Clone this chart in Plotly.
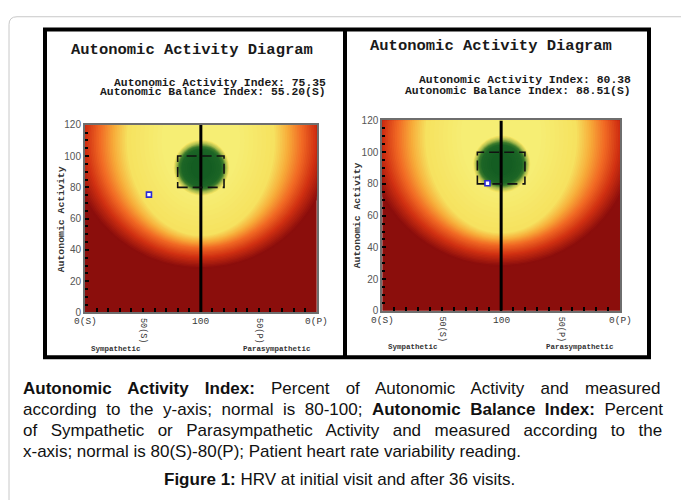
import plotly.graph_objects as go

W, H = 681, 500

# ---------------- data ----------------
panel_names = ["Initial visit", "After 36 visits"]
activity_index = [75.35, 80.38]          # Autonomic Activity Index (y)
balance_index = [55.20, 88.51]           # Autonomic Balance Index
balance_side = ["S", "S"]                # S = sympathetic, P = parasympathetic
normal_activity = [80, 100]
normal_balance = [80, 80]                # 80(S) - 80(P)

x_tick_vals = [0, 50, 100, 150, 200]
x_tick_text = ["0(S)", "50(S)", "100", "50(P)", "0(P)"]
x_tick_rot = [0, 90, 0, 90, 0]
y_tick_vals = [0, 20, 40, 60, 80, 100, 120]

panel_title = "Autonomic Activity Diagram"
y_title = "Autonomic Activity"
side_labels = ["Sympathetic", "Parasympathetic"]

caption_lines = [
    [("b", "Autonomic Activity Index:"), ("r", " Percent of Autonomic Activity and measured")],
    [("r", "according to the y-axis; normal is 80-100; "), ("b", "Autonomic Balance Index:"), ("r", " Percent")],
    [("r", "of Sympathetic or Parasympathetic Activity and measured according to the")],
    [("r", "x-axis; normal is 80(S)-80(P); Patient heart rate variability reading.")],
]
caption_justify = [True, True, True, False]
figure_caption = [("b", "Figure 1:"), ("r", " HRV at initial visit and after 36 visits.")]

# ---------------- style / layout constants ----------------
def px(x):
    return x / W


def py(y):
    return 1 - y / H


panels = [
    dict(l=85, r=316.7, t=121.7, b=314, title=(192.5, 45.5), idx_r=328, idx_y=(78.5, 88.5),
         ylab=(61.5, 218), side_y=351.5),
    dict(l=382.3, r=620, t=117.3, b=312.3, title=(491.5, 41), idx_r=633, idx_y=(76, 87),
         ylab=(357.5, 215), side_y=349.5),
]

field_center = (100, 110)
field_stops = [  # half-width, half-height (data units), colour ; from outside to inside
    (113, 82, (139, 14, 12)),
    (100, 75, (208, 48, 18)),
    (88, 69, (241, 106, 36)),
    (76, 65, (247, 172, 58)),
    (64, 61, (246, 226, 96)),
    (34, 36, (246, 238, 116)),
]
green_center = (100.5, 92.5)
green_stops = [
    (24, 18, (246, 230, 100)),
    (21.5, 15.5, (160, 182, 74)),
    (19.5, 13.8, (58, 122, 44)),
    (17, 12, (28, 101, 38)),
    (9, 7, (20, 93, 34)),
]

REG = {' ': 278, '-': 333, ';': 278, ':': 278, '(': 333, ')': 333, '.': 278, ',': 278}
BOLD = {' ': 278, '-': 333, ';': 333, ':': 333, '(': 333, ')': 333, '.': 278, ',': 278}
for d in "0123456789":
    REG[d] = 556
    BOLD[d] = 556
REG.update(dict(zip("abcdefghijklmnopqrstuvwxyz",
                    [556, 556, 500, 556, 556, 278, 556, 556, 222, 222, 500, 222, 833, 556, 556, 556,
                     556, 333, 500, 278, 556, 500, 722, 500, 500, 500])))
REG.update(dict(zip("ABCDEFGHIJKLMNOPQRSTUVWXYZ",
                    [667, 667, 722, 722, 667, 611, 778, 722, 278, 500, 667, 556, 833, 722, 778, 667,
                     778, 722, 667, 611, 722, 667, 944, 667, 667, 611])))
BOLD.update(dict(zip("abcdefghijklmnopqrstuvwxyz",
                     [556, 611, 556, 611, 556, 333, 611, 611, 278, 278, 556, 278, 889, 611, 611, 611,
                      611, 389, 556, 333, 611, 556, 778, 556, 556, 500])))
BOLD.update(dict(zip("ABCDEFGHIJKLMNOPQRSTUVWXYZ",
                     [722, 722, 722, 722, 667, 611, 778, 722, 278, 556, 722, 611, 833, 722, 778, 667,
                      778, 722, 667, 611, 722, 667, 944, 667, 667, 611])))

CAP_FONT = "Liberation Sans, Arial, sans-serif"
CAP_SIZE = 17
MONO = "Liberation Mono, Courier New, monospace"


def seg_width(segs):
    w = 0
    for kind, s in segs:
        tab = BOLD if kind == "b" else REG
        w += sum(tab.get(c, 556) for c in s)
    return w / 1000 * CAP_SIZE


def seg_html(segs):
    out = ""
    for kind, s in segs:
        out += f"<b>{s}</b>" if kind == "b" else s
    return out


def rgb(c):
    return f"rgb({int(round(c[0]))},{int(round(c[1]))},{int(round(c[2]))})"


def ellipses(center, stops, steps, xref, yref):
    res = []
    for i in range(len(stops) - 1):
        a0, b0, c0 = stops[i]
        a1, b1, c1 = stops[i + 1]
        for k in range(steps):
            f = k / steps
            a = a0 + (a1 - a0) * f
            b = b0 + (b1 - b0) * f
            c = [c0[j] + (c1[j] - c0[j]) * f for j in range(3)]
            res.append((a, b, c))
    res.append(stops[-1])
    shapes = []
    for a, b, c in res:
        shapes.append(dict(type="circle", xref=xref, yref=yref, x0=center[0] - a, x1=center[0] + a,
                           y0=center[1] - b, y1=center[1] + b, fillcolor=rgb(c),
                           line=dict(width=0), layer="below"))
    return shapes


def bal_x(v, side):
    return v if side == "S" else 200 - v


fig = go.Figure()
shapes = []
annotations = []

# page border (light grey rounded frame) and black figure frame
shapes.append(dict(type="path", xref="paper", yref="paper",
                   path=f"M {px(9)},{py(520)} L {px(9)},{py(19)} Q {px(9)},{py(11)} {px(17)},{py(11)} L {px(700)},{py(11)}",
                   line=dict(color="#c8c8c8", width=1)))
shapes.append(dict(type="rect", xref="paper", yref="paper", x0=px(45), x1=px(649), y0=py(360), y1=py(24),
                   line=dict(color="black", width=4)))
shapes.append(dict(type="line", xref="paper", yref="paper", x0=px(345), x1=px(345), y0=py(360), y1=py(24),
                   line=dict(color="black", width=4)))

layout_axes = {}
for i, p in enumerate(panels):
    sfx = "" if i == 0 else str(i + 1)
    xa, ya = "x" + sfx, "y" + sfx
    layout_axes["xaxis" + sfx] = dict(
        domain=[px(p["l"]), px(p["r"])], anchor=ya, range=[0, 200], showgrid=False, zeroline=False,
        showline=True, linecolor="#6e6e6e", linewidth=2, mirror=True, ticks="inside",
        tickmode="linear", tick0=0, dtick=10, ticklen=4, tickwidth=1.5, tickcolor="black",
        showticklabels=False, fixedrange=True)
    layout_axes["yaxis" + sfx] = dict(
        domain=[py(p["b"]), py(p["t"])], anchor=xa, range=[0, 120], showgrid=False, zeroline=False,
        showline=True, linecolor="#6e6e6e", linewidth=2, mirror=True, ticks="inside",
        tickmode="array", tickvals=y_tick_vals, ticklen=4, tickwidth=1.5, tickcolor="black",
        tickfont=dict(family="Liberation Sans, Arial, sans-serif", size=10, color="#555555"),
        minor=dict(ticks="inside", tickmode="linear", tick0=0, dtick=5, ticklen=3, tickwidth=1.5,
                   tickcolor="black"),
        fixedrange=True)

    # colour field
    shapes += ellipses(field_center, field_stops, 8, xa, ya)
    shapes += ellipses(green_center, green_stops, 5, xa, ya)
    # centre line and normal box
    shapes.append(dict(type="line", xref=xa, yref=ya, x0=100, x1=100, y0=0, y1=120,
                       line=dict(color="black", width=3), layer="below"))
    shapes.append(dict(type="rect", xref=xa, yref=ya,
                       x0=bal_x(normal_balance[0], "S"), x1=bal_x(normal_balance[1], "P"),
                       y0=normal_activity[0], y1=normal_activity[1],
                       line=dict(color="#111111", width=1.6, dash="10px,5px"), layer="below"))

    # patient reading
    fig.add_trace(go.Scatter(
        x=[bal_x(balance_index[i], balance_side[i])], y=[activity_index[i]], xaxis=xa, yaxis=ya,
        mode="markers", name=panel_names[i], showlegend=False, cliponaxis=False,
        marker=dict(symbol="square", size=5, color="white", line=dict(color="#2a2ad8", width=1.6))))

    # texts
    annotations.append(dict(xref="paper", yref="paper", x=px(p["title"][0]), y=py(p["title"][1]),
                            xanchor="center", yanchor="middle", showarrow=False,
                            text=f"<b>{panel_title}</b>",
                            font=dict(family=MONO, size=15.5, color="#1a1a1a")))
    annotations.append(dict(xref="paper", yref="paper", x=px(p["idx_r"]), y=py(p["idx_y"][0]),
                            xanchor="right", yanchor="middle", showarrow=False,
                            text=f"<b>Autonomic Activity Index: {activity_index[i]:.2f}</b>",
                            font=dict(family=MONO, size=11.4, color="#1a1a1a")))
    annotations.append(dict(xref="paper", yref="paper", x=px(p["idx_r"]), y=py(p["idx_y"][1]),
                            xanchor="right", yanchor="middle", showarrow=False,
                            text=f"<b>Autonomic Balance Index: {balance_index[i]:.2f}({balance_side[i]})</b>",
                            font=dict(family=MONO, size=11.4, color="#1a1a1a")))
    annotations.append(dict(xref="paper", yref="paper", x=px(p["ylab"][0]), y=py(p["ylab"][1]),
                            xanchor="center", yanchor="middle", showarrow=False, textangle=-90,
                            text=f"<b>{y_title}</b>",
                            font=dict(family=MONO, size=9.8, color="#333333")))
    for v, t, rot in zip(x_tick_vals, x_tick_text, x_tick_rot):
        if rot == 0:
            annotations.append(dict(xref=xa, yref="paper", x=v, y=py(p["b"] + 9.5),
                                    xanchor="center", yanchor="middle", showarrow=False, text=t,
                                    font=dict(family=MONO, size=9.5, color="#3a3a3a")))
        else:
            annotations.append(dict(xref=xa, yref="paper", x=v, y=py(p["b"] + 3.5),
                                    xanchor="center", yanchor="top", showarrow=False, text=t,
                                    textangle=rot,
                                    font=dict(family=MONO, size=8.5, color="#333333")))
    annotations.append(dict(xref="paper", yref="paper", x=px(p["l"] + 4), y=py(p["side_y"]),
                            xanchor="left", yanchor="middle", showarrow=False,
                            text=f"<b>{side_labels[0]}</b>",
                            font=dict(family=MONO, size=7.5, color="#333333")))
    annotations.append(dict(xref="paper", yref="paper", x=px(p["r"] - 4), y=py(p["side_y"]),
                            xanchor="right", yanchor="middle", showarrow=False,
                            text=f"<b>{side_labels[1]}</b>",
                            font=dict(family=MONO, size=7.5, color="#333333")))

# caption
cap_left, cap_right = 22, 662
cap_y = [391.5, 413, 434.5, 456]
for segs, just, yy in zip(caption_lines, caption_justify, cap_y):
    html = seg_html(segs)
    if just:
        n_sp = sum(s.count(" ") for _, s in segs)
        extra = (cap_right - cap_left - seg_width(segs)) / n_sp
        html = f"<span style='word-spacing:{extra:.2f}px'>{html}</span>"
    annotations.append(dict(xref="paper", yref="paper", x=px(cap_left - 1), y=py(yy),
                            xanchor="left", yanchor="middle", showarrow=False, text=html,
                            font=dict(family=CAP_FONT, size=CAP_SIZE, color="#111111")))
annotations.append(dict(xref="paper", yref="paper", x=px(339.5), y=py(485),
                        xanchor="center", yanchor="middle", showarrow=False,
                        text=seg_html(figure_caption),
                        font=dict(family=CAP_FONT, size=CAP_SIZE, color="#111111")))

fig.update_layout(
    width=W, height=H, margin=dict(l=0, r=0, t=0, b=0),
    paper_bgcolor="white", plot_bgcolor="rgb(139,14,12)",
    shapes=shapes, annotations=annotations, showlegend=False,
    **layout_axes)

fig.write_html("out.html", config=dict(displayModeBar=False),
               post_script="document.body.style.margin='0';document.body.style.overflow='hidden';")
